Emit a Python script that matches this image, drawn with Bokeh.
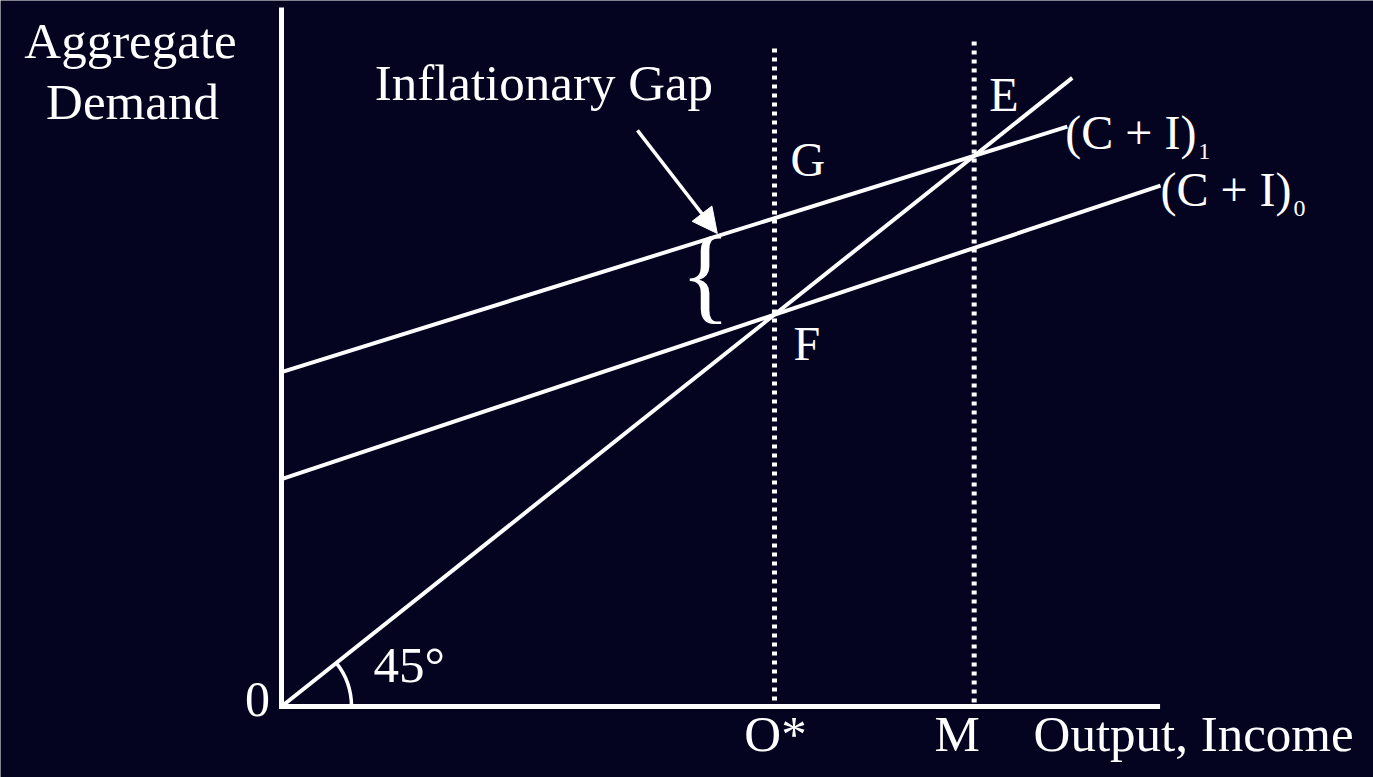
from bokeh.plotting import figure
from bokeh.models import Range1d, Arrow, NormalHead
from bokeh.core.properties import value
from bokeh.embed import file_html
from bokeh.resources import INLINE
import math

# --- Keynesian cross: inflationary gap -------------------------------------
# Output levels
full_employment_output = 100.0   # O*
equilibrium_output = 140.5       # M

# Aggregate demand schedules: intercept and slope
ci0_intercept, ci0_slope = 58.0, 0.42     # (C + I)0
ci1_intercept, ci1_slope = 85.3, 0.393    # (C + I)1
ci0_x_end = 178.3
ci1_x_end = 159.4
line45_x_end = 160.4

# Axis extents
axis_x_max = 177.7
axis_y_max = 177.7
dotted_top = [167.9, 169.7]   # tops of the O* and M guides

# Annotation layout (data space)
gap_label_pos = (18.9, 154.1)
gap_arrow = [(72.2, 147.0), (88.4, 120.7)]
brace_pos = (86.0, 100.0)

# pixels per data unit
SX, SY = 4.93, 3.919
W, H = 1373, 777
ORIGIN_PX = (281, 706)

BG = "#040421"
FG = "white"
FONT = value("Liberation Serif")

p = figure(width=W, height=H, output_backend="svg", toolbar_location=None,
           x_range=Range1d(-ORIGIN_PX[0] / SX, (W - ORIGIN_PX[0]) / SX),
           y_range=Range1d(-(H - ORIGIN_PX[1]) / SY, ORIGIN_PX[1] / SY),
           min_border=0, background_fill_color=BG, border_fill_color=BG,
           outline_line_color=None)
p.axis.visible = False
p.grid.visible = False

# axes
p.segment(x0=[0, 0], y0=[0, 0], x1=[0, axis_x_max], y1=[axis_y_max, 0],
          line_color=FG, line_width=5, line_cap="square")

# dotted guides at O* and M
guides_x = [full_employment_output, equilibrium_output]
p.segment(x0=guides_x, y0=dotted_top, x1=guides_x, y1=[0, 0],
          line_color=FG, line_width=5, line_dash="4 5")

# 45-degree line
p.line([0, line45_x_end], [0, line45_x_end], line_color=FG, line_width=4)

# aggregate demand schedules
p.line([0, ci0_x_end], [ci0_intercept, ci0_intercept + ci0_slope * ci0_x_end],
       line_color=FG, line_width=4)
p.line([0, ci1_x_end], [ci1_intercept, ci1_intercept + ci1_slope * ci1_x_end],
       line_color=FG, line_width=4)

# 45 degree angle marker
p.arc(x=[0], y=[0], radius=70, radius_units="screen", start_angle=0,
      end_angle=math.atan(SY / SX), line_color=FG, line_width=3.5)

# arrow pointing at the gap
p.add_layout(Arrow(end=NormalHead(size=25, fill_color=FG, line_color=FG),
                   x_start=gap_arrow[0][0], y_start=gap_arrow[0][1],
                   x_end=gap_arrow[1][0], y_end=gap_arrow[1][1],
                   line_color=FG, line_width=3.5))


def label(x, y, text, size, align="left", dx=0, dy=0):
    # dy is the baseline offset in pixels; the renderer's alphabetic
    # baseline sits about 0.38 em low, so lift it back
    p.text(x=[x], y=[y], text=[text], text_color=FG, text_font=FONT,
           text_font_size=f"{size}px", text_align=align,
           text_baseline="alphabetic", x_offset=dx, y_offset=dy - 0.38 * size)


# intersection points
g_y = ci1_intercept + ci1_slope * full_employment_output
f_y = ci0_intercept + ci0_slope * full_employment_output
e_x = ci1_intercept / (1 - ci1_slope)

label(brace_pos[0], brace_pos[1], "{", 105, align="center")
label(gap_label_pos[0], gap_label_pos[1], "Inflationary Gap", 51)

label(0, axis_y_max, "Aggregate", 51, align="center", dx=-151, dy=50)
label(0, axis_y_max, "Demand", 51, align="center", dx=-149, dy=111)

label(full_employment_output, g_y, "G", 48, dx=16, dy=-40)
label(full_employment_output, f_y, "F", 48, dx=19, dy=47)
label(e_x, e_x, "E", 48, dx=15, dy=-43)

label(0, 0, "0", 50, align="center", dx=-24, dy=12)
label(0, 0, "45°", 51, dx=92, dy=-22)
label(full_employment_output, 0, "O*", 51, align="center", dx=1, dy=47)
label(equilibrium_output, 0, "M", 51, align="center", dx=-17, dy=47)
label(axis_x_max, 0, "Output, Income", 51, dx=-124, dy=47)

# schedule labels with subscripts
ci1_end_y = ci1_intercept + ci1_slope * ci1_x_end
ci0_end_y = ci0_intercept + ci0_slope * ci0_x_end
label(ci1_x_end, ci1_end_y, "(C + I)", 48, dx=-2, dy=24)
label(ci1_x_end, ci1_end_y, "1", 24, dx=131, dy=34)
label(ci0_x_end, ci0_end_y, "(C + I)", 48, dx=0, dy=22)
label(ci0_x_end, ci0_end_y, "0", 24, dx=133, dy=32)

open("out.html", "w").write(file_html(p, INLINE))
